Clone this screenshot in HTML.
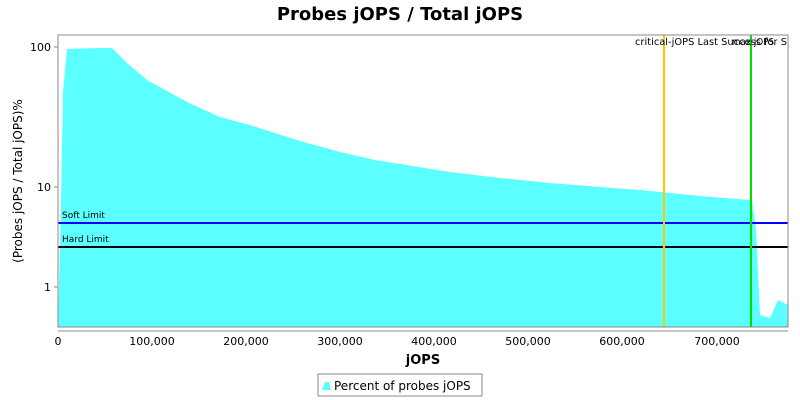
<!DOCTYPE html><html><head><style>body{margin:0;background:#fff}svg{display:block}text{font-family:"DejaVu Sans","Liberation Sans",sans-serif}</style></head><body>
<svg width="800" height="400" xmlns="http://www.w3.org/2000/svg">
<text x="400" y="20" font-size="18" font-weight="bold" text-anchor="middle">Probes jOPS / Total jOPS</text>
<rect x="58" y="35" width="730" height="292" fill="#fff"/>
<polygon fill="#5bffff" points="58,327 61,200 63,92 67,49 100,48 112,48 127,63 147,80 167,91 187,102 220,117 253,126 300,141 340,152 375,160 400,164 450,172 500,178 550,183 600,187 640,190 700,196 750,200 752,200 756,230 760,315 770,318 778,300 788,305 788,327"/>
<line x1="58" y1="223" x2="788" y2="223" stroke="#0000ff" stroke-width="2"/>
<line x1="58" y1="247" x2="788" y2="247" stroke="#000" stroke-width="2"/>
<text x="62" y="218" font-size="9">Soft Limit</text>
<text x="62" y="242" font-size="9">Hard Limit</text>
<line x1="664" y1="35" x2="664" y2="327" stroke="#ffc800" stroke-width="2"/>
<line x1="751" y1="35" x2="751" y2="327" stroke="#00e000" stroke-width="2"/>
<text x="635" y="45" font-size="9.5" textLength="152" lengthAdjust="spacingAndGlyphs">critical-jOPS Last Success for S</text>
<text x="732" y="45" font-size="9.5" textLength="42" lengthAdjust="spacingAndGlyphs">max-jOPS</text>
<rect x="58" y="35" width="730" height="292" fill="none" stroke="#888"/>
<g stroke="#888"><line x1="54" y1="47" x2="58" y2="47"/><line x1="54" y1="187" x2="58" y2="187"/><line x1="54" y1="287" x2="58" y2="287"/></g>
<g font-size="11" text-anchor="end"><text x="51" y="51">100</text><text x="51" y="191">10</text><text x="51" y="291">1</text></g>
<line x1="58" y1="331" x2="788" y2="331" stroke="#888"/>
<g font-size="11" text-anchor="middle">
<text x="58" y="345">0</text><text x="152" y="345">100,000</text><text x="246" y="345">200,000</text><text x="340" y="345">300,000</text><text x="434" y="345">400,000</text><text x="528" y="345">500,000</text><text x="622" y="345">600,000</text><text x="717" y="345">700,000</text></g>
<text x="423" y="364" font-size="13" font-weight="bold" text-anchor="middle">jOPS</text>
<text transform="translate(22,181) rotate(-90)" font-size="12" text-anchor="middle">(Probes jOPS / Total jOPS)%</text>
<rect x="318" y="374" width="164" height="22" fill="#fff" stroke="#888"/>
<polygon points="322,390 325,382 329,382 331,390" fill="#5bffff"/>
<text x="334" y="390" font-size="12">Percent of probes jOPS</text>
</svg></body></html>
